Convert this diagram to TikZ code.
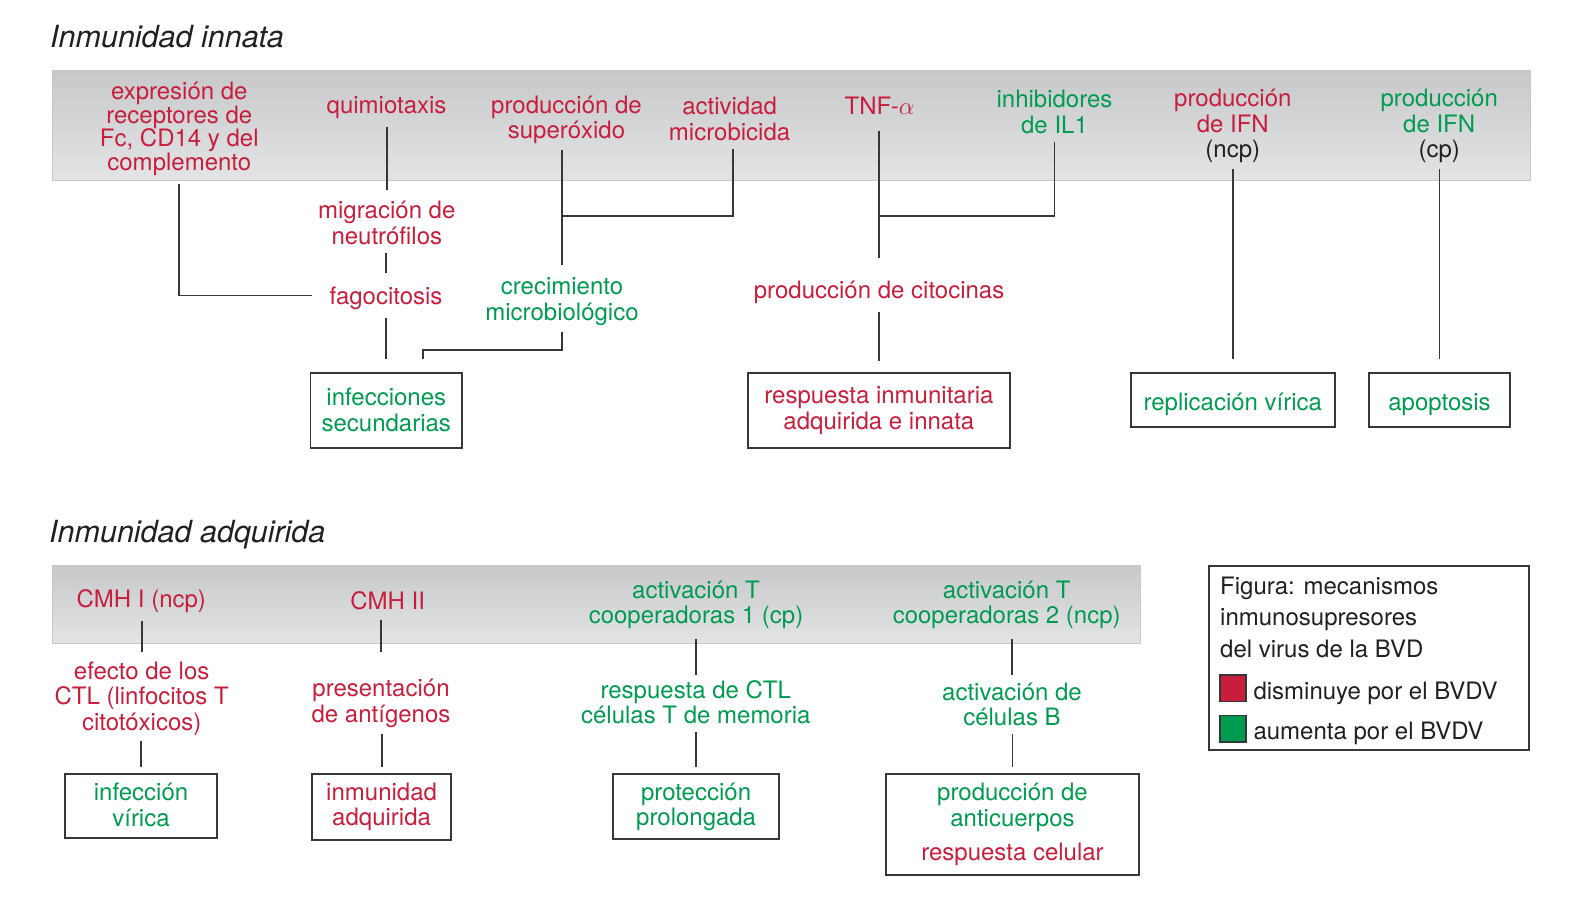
\documentclass[tikz,border=0pt]{standalone}
\usepackage{fontspec}
\setmainfont{TeX Gyre Heros}
\definecolor{rd}{RGB}{200,30,60}
\definecolor{gn}{RGB}{0,155,80}
\definecolor{ln}{RGB}{55,55,55}
\definecolor{tx}{RGB}{35,31,32}
\definecolor{bandtop}{RGB}{199,200,202}
\definecolor{bandbot}{RGB}{227,228,229}
\tikzset{
  txt/.style={inner sep=8pt, outer sep=0pt, align=center, font=\fontsize{24}{25.5}\selectfont,
    execute at begin node={\rule{0pt}{23pt}}, execute at end node={\rule[-2.5pt]{0pt}{2.5pt}}},
  rtx/.style={txt, text=rd},
  gtx/.style={txt, text=gn},
  ml/.style={yshift=-2pt, inner sep=6pt},
  box/.style={draw=ln, line width=1.8pt, inner sep=0pt, execute at begin node={\rule{0pt}{27pt}}},
  con/.style={draw=ln, line width=1.8pt},
  band/.style={top color=bandtop, bottom color=bandbot, draw=black!22, line width=0.6pt},
  ttl/.style={font=\fontsize{30.5}{32}\selectfont\itshape, text=tx, anchor=base west, inner sep=0pt},
  lgd/.style={font=\fontsize{24}{31.5}\selectfont, text=tx, align=left, inner sep=0pt,
    execute at begin node={\rule{0pt}{23pt}}},
  swatch/.style={draw=ln, line width=1.2pt, minimum width=26pt, minimum height=26.7pt, inner sep=0pt, outer sep=0pt},
}
\begin{document}
\begin{tikzpicture}[x=1pt,y=-1pt,line cap=butt]
\useasboundingbox (0,0) rectangle (1572,913);
% bandas
\path[band] (52,70) rectangle (1530,180);
\path[band] (52,565) rectangle (1140,643.5);
\node[ttl] (t1) at (50,47.7) {Inmunidad innata};
\node[ttl] (t2) at (49,542.7) {Inmunidad adquirida};

% inmunidad innata
\node[rtx, yshift=-2pt, font=\fontsize{24}{23.5}\selectfont] (expr) at (179.3,126.9) {expresión de\\receptores de\\Fc, CD14 y del\\complemento};
\node[rtx] (quim) at (386.5,104.5) {quimiotaxis};
\node[rtx, ml] (sup) at (566.5,118.05) {producción de\\superóxido};
\node[rtx, ml] (activ) at (729.6,118.05) {actividad\\microbicida};
\node[rtx] (tnf) at (879.6,104) {TNF-$\alpha$};
\node[gtx, ml] (il1) at (1054.5,111.1) {inhibidores\\de IL1};
\node[rtx, ml] (ncp) at (1232.8,123.95) {producción\\de IFN\\\textcolor{tx}{(ncp)}};
\node[gtx, ml] (cp) at (1439.2,123.95) {producción\\de IFN\\\textcolor{tx}{(cp)}};
\node[rtx, ml] (migr) at (386.8,221.95) {migración de\\neutrófilos};
\node[rtx] (fago) at (386,295.5) {fagocitosis};
\node[gtx, ml] (crec) at (562,299.75) {crecimiento\\microbiológico};
\node[rtx] (cito) at (879.1,289.5) {producción de citocinas};
\node[gtx, box, minimum width=151.7pt, minimum height=75pt] (infe) at (386.3,410.8) {infecciones\\secundarias};
\node[rtx, box, minimum width=261.4pt, minimum height=75pt] (resp) at (878.9,410.8) {respuesta inmunitaria\\adquirida e innata};
\node[gtx, box, minimum width=204.3pt, minimum height=53.4pt] (repl) at (1232.8,400) {replicación vírica};
\node[gtx, box, minimum width=141pt, minimum height=53.4pt] (apop) at (1439.5,400) {apoptosis};

% inmunidad adquirida
\node[rtx] (cmh1) at (141.3,599) {CMH I (ncp)};
\node[rtx] (cmh2) at (387.6,599) {CMH II};
\node[gtx, ml] (act1) at (696,603.05) {activación T\\cooperadoras 1 (cp)};
\node[gtx, ml] (act2) at (1006.7,603.05) {activación T\\cooperadoras 2 (ncp)};
\node[rtx, ml] (efe) at (141.7,696.55) {efecto de los\\CTL (linfocitos T\\citotóxicos)};
\node[rtx, ml] (pres) at (381,701.45) {presentación\\de antígenos};
\node[gtx, ml] (rctl) at (695.8,701.45) {respuesta de CTL\\células T de memoria};
\node[gtx, ml] (actb) at (1012,703.55) {activación de\\células B};
\node[gtx, box, minimum width=151.6pt, minimum height=63.7pt] (infv) at (141,805.8) {infección\\vírica};
\node[rtx, box, minimum width=139.5pt, minimum height=66pt] (inmu) at (381.6,807) {inmunidad\\adquirida};
\node[gtx, box, minimum width=166.5pt, minimum height=65pt] (prot) at (696.1,806.8) {protección\\prolongada};
\node[gtx, box, minimum width=252.5pt, minimum height=100.7pt] (prod) at (1012.5,824.7) {producción de\\anticuerpos\\[9pt]\textcolor{rd}{respuesta celular}};

% conectores
\foreach \a/\b/\s/\e in {quim/migr/0/5.5, migr/fago/0/0, fago/infe/0/14, tnf/cito/6/9, cito/resp/0/12,
  ncp/repl/0/14, cp/apop/0/14, cmh1/efe/0/4, efe/infv/0/7, cmh2/pres/0/21, pres/inmu/0/7,
  act1/rctl/4/-1, rctl/prot/0/7, act2/actb/4/2, actb/prod/0/7}
  {\draw[con, shorten <=\s pt, shorten >=\e pt] (\b.north |- \a.south) -- (\b.north);}
\coordinate (j1) at (crec.north |- 0,216);
\coordinate (j2) at (cito.north |- 0,216);
\draw[con] (expr.south) |- ([xshift=-10pt]fago.west);
\draw[con, shorten <=6.5pt] (crec.north) -- (crec.north |- sup.south);
\draw[con] ([xshift=3pt]activ.south) |- (j1);
\draw[con] (il1.south) |- (j2);
\draw[con, shorten >=14pt] (crec.south) -- ++(0,18) -| ([xshift=37pt]infe.north);

% leyenda
\node[box, minimum width=320pt, minimum height=184pt] (leg) at (1369.3,658) {};
\node[lgd, anchor=north west] (legt) at (1220,576.5) {Figura: mecanismos\\inmunosupresores\\del virus de la BVD};
\node[swatch, fill=rd] (swr) at (1233,688.3) {};
\node[swatch, fill=gn] (swg) at (1233,728.7) {};
\node[lgd, anchor=base west] (dism) at (1253.3,699.3) {disminuye por el BVDV};
\node[lgd, anchor=base west] (aume) at (1253.3,739.3) {aumenta por el BVDV};
\end{tikzpicture}
\end{document}
